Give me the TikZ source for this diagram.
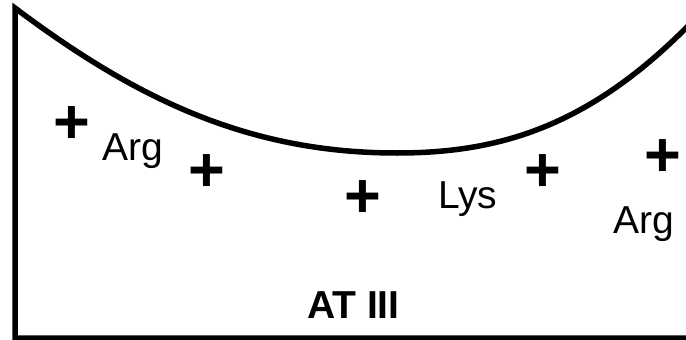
\documentclass[tikz,border=0pt]{standalone}
\usepackage{fontspec}
\setmainfont{Liberation Sans}
\begin{document}
\begin{tikzpicture}[x=1pt,y=-1pt,
  lbl/.style={inner sep=0pt,anchor=base west,font=\fontsize{39}{44}\selectfont},
  chg/.style={inner sep=0pt,font=\fontsize{63}{68}\selectfont\bfseries},
  edge/.style={line width=5.5pt,line join=miter}]
\useasboundingbox (0,0) rectangle (686,340);
\coordinate (tl) at (15,8);
\coordinate (bl) at (15,338);
\coordinate (br) at (692,338);
\coordinate (tr) at (700,14);
\coordinate (re) at (686,28);
\coordinate (bot) at (397,153);
\draw[edge] (tr) -- (re) .. controls (586,128) and (497,153) .. (bot)
  .. controls (247,153) and (135,98) .. (tl) -- (bl) -- (br);
\node[lbl] (arg1) at (102,160) {Arg};
\node[lbl] (lys) at (438,208) {Lys};
\node[lbl] (arg2) at (613,233) {Arg};
\node[lbl,font=\fontsize{39}{44}\selectfont\bfseries] (at) at (307,318) {AT III};
\node[chg] (p1) at (72,125) {+};
\node[chg] (p2) at (207,173) {+};
\node[chg] (p3) at (363,199) {+};
\node[chg] (p4) at (543,173) {+};
\node[chg] (p5) at (663,158) {+};
\end{tikzpicture}
\end{document}
